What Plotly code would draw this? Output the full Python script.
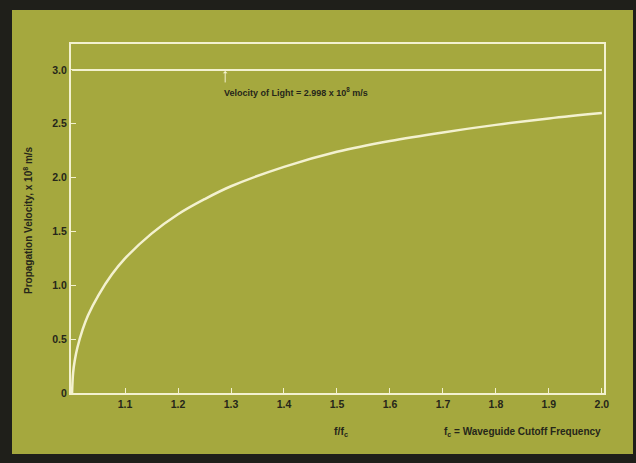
import plotly.graph_objects as go

# Data
f_ratio = [1.0, 1.002, 1.005, 1.01, 1.02, 1.03, 1.05, 1.075, 1.1, 1.15, 1.2, 1.25, 1.3,
           1.4, 1.5, 1.6, 1.7, 1.8, 1.9, 2.0]
velocity = [0.0, 0.19, 0.30, 0.42, 0.59, 0.72, 0.91, 1.10, 1.25, 1.48, 1.66, 1.80, 1.92,
            2.10, 2.24, 2.34, 2.42, 2.49, 2.55, 2.60]
light_x = [1.0, 2.0]
light_v = [3.0, 3.0]

x_ticks = [1.1, 1.2, 1.3, 1.4, 1.5, 1.6, 1.7, 1.8, 1.9, 2.0]
x_tick_labels = ["1.1", "1.2", "1.3", "1.4", "1.5", "1.6", "1.7", "1.8", "1.9", "2.0"]
y_ticks = [0, 0.5, 1.0, 1.5, 2.0, 2.5, 3.0]
y_tick_labels = ["0", "0.5", "1.0", "1.5", "2.0", "2.5", "3.0"]

GREEN = "#a5a83e"
DARK = "#1f1f1a"
CREAM = "#f3f1cf"
TEXT = "#25261a"
FONT = "Liberation Sans Narrow, Liberation Sans, Arial"

fig = go.Figure()
fig.add_trace(go.Scatter(x=light_x, y=light_v, mode="lines",
                         line=dict(color=CREAM, width=2), hoverinfo="skip"))
fig.add_trace(go.Scatter(x=f_ratio, y=velocity, mode="lines", line_shape="spline",
                         line=dict(color=CREAM, width=2.5), hoverinfo="skip"))

W, H = 636, 463
L, R, T, B = 71, 32, 44, 70
pw, ph = W - L - R, H - T - B

def px_x(x):
    return (x - L) / pw

def px_y(y):
    return (H - B - y) / ph

fig.add_shape(type="rect", xref="paper", yref="paper",
              x0=px_x(12), x1=px_x(633), y0=px_y(454), y1=px_y(10),
              fillcolor=GREEN, line=dict(width=0), layer="below")

fig.update_layout(
    width=W, height=H,
    margin=dict(l=L, r=R, t=T, b=B),
    paper_bgcolor=DARK,
    plot_bgcolor="rgba(0,0,0,0)",
    showlegend=False,
    font=dict(family=FONT, color=TEXT, size=10),
    xaxis=dict(range=[0.998, 2.004], tickvals=x_ticks, ticktext=x_tick_labels,
               ticks="inside", ticklen=5, tickcolor=CREAM, tickwidth=1,
               showgrid=False, zeroline=False,
               showline=True, linecolor=CREAM, linewidth=2, mirror=True,
               tickfont=dict(family=FONT, size=10.5, color=TEXT, weight="bold")),
    yaxis=dict(range=[0, 3.241], tickvals=y_ticks, ticktext=y_tick_labels,
               ticks="inside", ticklen=5, tickcolor=CREAM, tickwidth=1,
               showgrid=False, zeroline=False,
               showline=True, linecolor=CREAM, linewidth=2, mirror=True,
               tickfont=dict(family=FONT, size=10.5, color=TEXT, weight="bold")),
)

# arrow pointing to the light-speed line
fig.add_annotation(x=1.289, y=3.0, xref="x", yref="y", text="", showarrow=True,
                   ax=0, ay=14, arrowhead=1, arrowsize=0.8, arrowwidth=1,
                   arrowcolor=CREAM, standoff=1)
fig.add_annotation(x=px_x(222), y=px_y(92), xref="paper", yref="paper",
                   text="Velocity of Light = 2.998 x 10<sup>8</sup> m/s",
                   showarrow=False, xanchor="left", yanchor="middle",
                   font=dict(family=FONT, size=9, color=TEXT, weight="bold"))
fig.add_annotation(x=px_x(28), y=px_y(220), xref="paper", yref="paper",
                   text="Propagation Velocity, x 10<sup>8</sup> m/s", textangle=-90,
                   showarrow=False, xanchor="center", yanchor="middle",
                   font=dict(family=FONT, size=10, color=TEXT, weight="bold"))
fig.add_annotation(x=px_x(341), y=px_y(432), xref="paper", yref="paper",
                   text="f/f<sub>c</sub>", showarrow=False,
                   xanchor="center", yanchor="middle",
                   font=dict(family=FONT, size=10.5, color=TEXT, weight="bold"))
fig.add_annotation(x=px_x(603), y=px_y(432), xref="paper", yref="paper",
                   text="f<sub>c</sub> = Waveguide Cutoff Frequency", showarrow=False,
                   xanchor="right", yanchor="middle",
                   font=dict(family=FONT, size=10, color=TEXT, weight="bold"))

fig.write_html("out.html", config={"displayModeBar": False},
               post_script="document.body.style.margin='0';document.body.style.padding='0';")
